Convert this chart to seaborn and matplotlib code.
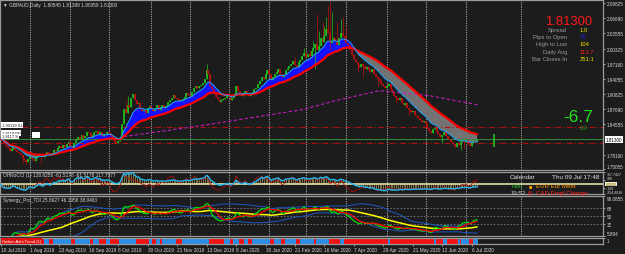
import numpy as np
import pandas as pd
import matplotlib
matplotlib.use("Agg")
import matplotlib.pyplot as plt
import matplotlib.transforms as mtrans
import seaborn as sns

# === Data ===
jul19 = [1.815, 1.812, 1.806, 1.800, 1.796, 1.790, 1.794, 1.797, 1.792, 1.788, 1.785, 1.780, 1.775, 1.770, 1.766, 1.772]
aug19 = [1.776, 1.772, 1.768, 1.775, 1.780, 1.784, 1.780, 1.776, 1.782, 1.788, 1.785, 1.780, 1.786, 1.792, 1.790,
         1.795, 1.800, 1.796, 1.802, 1.798, 1.804, 1.808]
sep19 = [1.800, 1.796, 1.805, 1.812, 1.818, 1.815, 1.822, 1.816, 1.820, 1.830, 1.826, 1.818, 1.822, 1.828, 1.832,
         1.824, 1.830, 1.820, 1.825, 1.822, 1.828]
oct19 = [1.826, 1.820, 1.812, 1.808, 1.805, 1.810, 1.815, 1.845, 1.878, 1.868, 1.885, 1.882, 1.900, 1.908, 1.895,
         1.888, 1.890, 1.878, 1.872, 1.875, 1.868, 1.880, 1.884]
nov19 = [1.880, 1.872, 1.878, 1.885, 1.876, 1.882, 1.885, 1.880, 1.884, 1.892, 1.896, 1.900, 1.906, 1.900, 1.897,
         1.894, 1.896, 1.899, 1.903, 1.910, 1.907]
dec19 = [1.905, 1.912, 1.920, 1.925, 1.922, 1.925, 1.928, 1.932, 1.940, 1.958, 1.950, 1.925, 1.918, 1.910, 1.902,
         1.898, 1.892, 1.895, 1.898, 1.900, 1.904]
jan20 = [1.902, 1.895, 1.900, 1.908, 1.925, 1.915, 1.910, 1.905, 1.910, 1.915, 1.910, 1.905, 1.910, 1.912, 1.918,
         1.922, 1.930, 1.935, 1.945, 1.940, 1.950, 1.958]
feb20 = [1.950, 1.938, 1.945, 1.950, 1.955, 1.960, 1.950, 1.945, 1.948, 1.958, 1.962, 1.966, 1.972, 1.978, 1.970,
         1.965, 1.975, 1.980, 1.988, 1.995]
mar20 = [1.985, 1.992, 1.988, 1.998, 2.005, 2.012, 2.000, 2.008, 2.025, 2.018, 2.030, 2.045, 2.035, 2.015, 2.020,
         2.025, 2.020, 2.010, 2.025, 2.035, 2.030, 2.020]
apr20 = [2.015, 2.010, 2.000, 1.990, 1.982, 1.975, 1.970, 1.965, 1.972, 1.968, 1.960, 1.965, 1.958, 1.955, 1.960,
         1.950, 1.945, 1.940, 1.935, 1.930, 1.925, 1.920]
may20 = [1.925, 1.930, 1.918, 1.912, 1.905, 1.900, 1.895, 1.900, 1.890, 1.885, 1.890, 1.880, 1.875, 1.870, 1.872,
         1.865, 1.862, 1.858, 1.855, 1.850, 1.852]
jun20 = [1.845, 1.838, 1.832, 1.826, 1.835, 1.838, 1.830, 1.824, 1.818, 1.822, 1.828, 1.820, 1.815, 1.812, 1.808,
         1.804, 1.798, 1.806, 1.802, 1.808, 1.812, 1.808]
jul20 = [1.812, 1.805, 1.800, 1.806, 1.811, 1.808, 1.813]
first_open = 1.818

# wick extremes on the longer candles (bar index -> price)
spike_high = {68: 1.895, 69: 1.905, 112: 1.972, 160: 1.985, 165: 2.005, 168: 2.000, 170: 2.020, 172: 2.075,
              173: 2.040, 175: 2.060, 176: 2.050, 177: 2.070, 178: 2.092, 179: 2.100, 180: 2.080, 183: 2.060,
              185: 2.065, 186: 2.070, 188: 2.050}
spike_low = {12: 1.765, 14: 1.760, 22: 1.765, 171: 1.960, 179: 2.000, 194: 1.955, 197: 1.945, 205: 1.925,
             215: 1.890, 222: 1.865, 240: 1.805, 250: 1.792, 252: 1.796}

# magenta dashed MA, read at a few bars
magenta_bar = [67, 109, 164, 182, 206, 233, 259]
magenta_val = [1.8193, 1.8423, 1.8757, 1.8945, 1.9154, 1.9050, 1.8860]

# horizontal levels
red_levels = [1.8385, 1.8065]
bid_line = 1.8148
future_bar = (268, 1.797, 1.824)

main_ticks = [2.09825, 2.06690, 2.03555, 2.00325, 1.97190, 1.94055, 1.90825, 1.87690, 1.84555, 1.78190, 1.75055]
cci_ticks = [307.7427, 100, -100, -254.4816]
cci_tick_labels = ["307.7427", "100", "-100", "-254.4816"]
tdi_ticks = [96.0855, 68, 50, 32, 5.894]
tdi_tick_labels = ["96.0855", "68", "50", "32", "5.894"]
date_labels = ["10 Jul 2019", "1 Aug 2019", "23 Aug 2019", "16 Sep 2019", "8 Oct 2019", "30 Oct 2019",
               "21 Nov 2019", "13 Dec 2019", "8 Jan 2020", "30 Jan 2020", "21 Feb 2020", "16 Mar 2020",
               "7 Apr 2020", "29 Apr 2020", "21 May 2020", "12 Jun 2020", "6 Jul 2020"]

info_labels = ["Spread", "Pips to Open", "High to Low", "Daily Avg", "Bar Closes In"]
info_values = ["1.0", "75", "104", "113.7", "251:1"]
info_colors = ["#f0e000", "#2020ff", "#f0e000", "#ff2020", "#f0e000"]

# === Build series ===
closes = np.array(jul19 + aug19 + sep19 + oct19 + nov19 + dec19 + jan20 + feb20 + mar20 + apr20 + may20 + jun20 + jul20)
dates = pd.bdate_range("2019-07-10", "2020-07-09")
dates = dates[~dates.isin(pd.to_datetime(["2019-12-25", "2020-01-01"]))]
n = len(closes)
idx = np.arange(n)
opens = np.concatenate([[first_open], closes[:-1]])
highs = np.maximum(opens, closes)
lows = np.minimum(opens, closes)
for k, v in spike_high.items():
    highs[k] = v
for k, v in spike_low.items():
    lows[k] = v

s = pd.Series(closes)
ema_fast = s.ewm(span=10).mean().values
ema_slow = s.ewm(span=30).mean().values


def cci(series, period):
    m = series.rolling(period, min_periods=2).mean()
    mad = series.rolling(period, min_periods=2).apply(lambda x: np.mean(np.abs(x - x.mean())), raw=True)
    return ((series - m) / (0.015 * mad)).fillna(0).clip(-250, 300).values


cci_slow = cci(s, 50)
cci_fast = cci(s, 14)

delta = s.diff()
gain = delta.clip(lower=0).ewm(alpha=1 / 13, adjust=False).mean()
loss = (-delta.clip(upper=0)).ewm(alpha=1 / 13, adjust=False).mean()
rsi = (100 - 100 / (1 + gain / loss)).bfill()
tdi_green = rsi.rolling(2, min_periods=1).mean().values
tdi_red = rsi.rolling(7, min_periods=1).mean().values
tdi_mid = rsi.rolling(34, min_periods=1).mean()
tdi_sd = rsi.rolling(34, min_periods=2).std().bfill()
tdi_up = (tdi_mid + 1.6185 * tdi_sd).values
tdi_dn = (tdi_mid - 1.6185 * tdi_sd).values
tdi_mid = tdi_mid.values

ha_close = (opens + highs + lows + closes) / 4
ha_open = np.zeros(n)
ha_open[0] = (opens[0] + closes[0]) / 2
for i in range(1, n):
    ha_open[i] = (ha_open[i - 1] + ha_close[i - 1]) / 2
ha_up = ha_close >= ha_open

month_start = [i for i in range(1, n) if dates[i].month != dates[i - 1].month] + [283]
label_bars = list(range(0, n, 16))

# === Figure ===
sns.set_theme(style="dark", rc={"axes.facecolor": "#1c1c1c", "figure.facecolor": "#1c1c1c"})
plt.rcParams["font.family"] = ["Liberation Sans", "DejaVu Sans"]

W, H = 625, 255
BG = "#1c1c1c"
TXT = "#d8d8d8"
fig = plt.figure(figsize=(W / 100, H / 100), dpi=100)


def px_axes(x0, y0, x1, y1):
    a = fig.add_axes([x0 / W, 1 - y1 / H, (x1 - x0) / W, (y1 - y0) / H])
    a.set_facecolor(BG)
    for sp in a.spines.values():
        sp.set_color("#9a9a9a")
        sp.set_linewidth(0.9)
    a.set_xlim(-0.3, 327.4)
    a.yaxis.tick_right()
    a.tick_params(axis="y", labelsize=3.3, colors=TXT, length=1.5, width=0.5, pad=1, right=True, left=False)
    a.tick_params(axis="x", bottom=False, labelbottom=False)
    a.grid(False)
    return a


def edge_labels(a):
    lab = a.get_yticklabels()
    lab[0].set_va("top")
    lab[-1].set_va("bottom")


def ftext(x, y, t, **kw):
    fig.text(x / W, 1 - y / H, t, **kw)


def vgrid(a):
    for m in month_start:
        a.axvline(m, color="#cfcfcf", lw=0.55, ls=(0, (1.5, 1.5)), zorder=0.5)


# --- main price panel ---
ax = px_axes(0, 1, 603, 171)
ax.set_ylim(1.7495, 2.105)
vgrid(ax)
ax.fill_between(idx, ema_fast, ema_slow, where=ema_fast >= ema_slow, color="#1212ff", interpolate=True, lw=0, zorder=1)
ax.fill_between(idx, ema_fast, ema_slow, where=ema_fast < ema_slow, color="#737373", interpolate=True, lw=0, zorder=1)
for lv in red_levels:
    ax.axhline(lv, color="#b01010", lw=0.8, ls=(0, (5, 2, 1, 2)), zorder=1.5)
ax.axhline(bid_line, color="#3a8a3a", lw=0.7, zorder=1.5)
col = np.where(closes >= opens, "#1cc21c", "#c20e0e")
ax.vlines(idx, lows, highs, colors=col, lw=0.5, zorder=2)
ax.vlines(idx, np.minimum(opens, closes), np.maximum(opens, closes), colors=col, lw=1.2, zorder=2)
ax.vlines(future_bar[0], future_bar[1], future_bar[2], colors="#1cc21c", lw=1.2, zorder=2)
sns.lineplot(x=magenta_bar, y=magenta_val, ax=ax, color="#c21cc2", lw=0.8, zorder=2.5)
ax.lines[-1].set_linestyle((0, (3, 2)))
sns.lineplot(x=idx, y=ema_slow, ax=ax, color="#ff0000", lw=1.6, zorder=3)
sns.lineplot(x=idx, y=ema_fast, ax=ax, color="#1ea6ff", lw=0.7, zorder=3)
ax.set_yticks(main_ticks)
ax.set_yticklabels([f"{t:.5f}" for t in main_ticks])
ax.get_yticklabels()[-1].set_va("bottom")
ax.set_xlabel("")
ax.set_ylabel("")
bl = mtrans.blended_transform_factory(ax.transAxes, ax.transData)
ax.text(1.004, 1.8130, "1.81300", transform=bl, fontsize=3.3, color="black", va="center", ha="left",
        bbox=dict(facecolor="white", edgecolor="none", pad=0.6), clip_on=False)

ftext(3, 6, "\u25bc GBPAUD,Daily  1.80545 1.81399 1.80359 1.81300", fontsize=3.4, color=TXT, va="center")
ftext(592, 25, "1.81300", fontsize=9.4, color="#ff1a1a", ha="right", va="baseline")
for i, (lab, val, c) in enumerate(zip(info_labels, info_values, info_colors)):
    y = 30.5 + i * 7.2
    ftext(567, y, lab, fontsize=4.2, color="#9a9a9a", ha="right", va="center")
    ftext(580, y, val, fontsize=4.2, color=c, ha="left", va="center")
ftext(593, 122, "-6.7", fontsize=12.5, color="#22dd22", ha="right", va="baseline")
ftext(580, 129, "0.0", fontsize=4.3, color="#2aa02a", ha="left", va="center")

for y, t in [(126, "1.90119 S1"), (134, "1.8118 PP"), (137.5, "1.8117 S")]:
    ftext(2, y, t, fontsize=3.0, color="#202020", va="center",
          bbox=dict(facecolor="white", edgecolor="none", pad=0.5))
ftext(33, 136, "      ", fontsize=3.0, va="center", bbox=dict(facecolor="white", edgecolor="none", pad=0.5))

# --- CCI panel ---
ax2 = px_axes(0, 173, 603, 195)
ax2.set_ylim(-254.4816, 307.7427)
vgrid(ax2)
ax2.vlines(idx, 0, cci_slow, colors="#9c8a52", lw=0.55, zorder=1)
ax2.axhline(0, color="#f3ecb0", lw=1.1, zorder=2)
sns.lineplot(x=idx, y=cci_fast, ax=ax2, color="#a81010", lw=0.6, zorder=3)
sns.lineplot(x=idx, y=cci_slow, ax=ax2, color="#22b8f0", lw=1.0, zorder=3)
ax2.set_yticks(cci_ticks)
ax2.set_yticklabels(cci_tick_labels)
ax2.tick_params(axis="y", labelsize=2.6)
edge_labels(ax2)
cl = ax2.get_yticklabels()
cl[1].set_va("bottom")
cl[2].set_va("center")
ax2.set_xlabel("")
ax2.set_ylabel("")
bl2 = mtrans.blended_transform_factory(ax2.transAxes, ax2.transData)
ax2.text(1.004, 0, "0.0000", transform=bl2, fontsize=2.6, color="#6a5a00", va="center", ha="left",
         bbox=dict(facecolor="#f4f0c8", edgecolor="none", pad=0.3), clip_on=False)
ftext(3, 176, "OHNoCCI (1) 128.6256 -61.5178 -61.5178 117.7577", fontsize=3.4, color=TXT, va="center")
ftext(510, 178, "Calendar", fontsize=4.6, color="#e0e0e0", va="center")
ftext(552, 178, "Thu 09 Jul 17:48", fontsize=4.6, color="#e0e0e0", va="center")
ftext(511, 186.5, "Hou", fontsize=4.4, color="#22c022", va="center")
ftext(529, 186.5, "\u25a0", fontsize=4.0, color="#ff9900", va="center")
ftext(536, 186.5, "EUR Eur Meet", fontsize=4.4, color="#ff9900", va="center")
ftext(511, 193.5, "19:52", fontsize=4.4, color="#c8c8c8", va="center")
ftext(528, 193.5, "(!)", fontsize=4.0, color="#ff2020", va="center")
ftext(536, 193.5, "CAD Empl Change", fontsize=4.4, color="#ff2020", va="center")

# --- TDI panel ---
ax3 = px_axes(0, 197, 603, 237)
ax3.set_ylim(5.894, 96.0855)
vgrid(ax3)
for lv in [68, 50, 32]:
    ax3.axhline(lv, color="#7a7a7a", lw=0.6, ls=(0, (2, 2)), zorder=1)
sns.lineplot(x=idx, y=tdi_up, ax=ax3, color="#2050b0", lw=0.8, zorder=2)
sns.lineplot(x=idx, y=tdi_dn, ax=ax3, color="#2050b0", lw=0.8, zorder=2)
sns.lineplot(x=idx, y=tdi_mid, ax=ax3, color="#ffff00", lw=1.1, zorder=3)
sns.lineplot(x=idx, y=tdi_green, ax=ax3, color="#00dd00", lw=0.9, zorder=4)
sns.lineplot(x=idx, y=tdi_red, ax=ax3, color="#ff0000", lw=0.9, zorder=4)
ax3.set_yticks(tdi_ticks)
ax3.set_yticklabels(tdi_tick_labels)
edge_labels(ax3)
ax3.set_xlabel("")
ax3.set_ylabel("")
ftext(3, 200.5, "Synergy_Pro_TDI 25.8627 46.1958 38.0463", fontsize=3.4, color=TXT, va="center")

# --- Heiken Ashi strip ---
ax4 = px_axes(0, 239, 603, 245)
ax4.set_ylim(0, 1)
ax4.bar(idx, 1, width=1.0, color=np.where(ha_up, "#2a8ee6", "#f01212"), lw=0, align="center")
ax4.set_yticks([1])
ax4.set_yticklabels(["1"])
ax4.get_yticklabels()[0].set_va("top")
ax4.set_xticks(label_bars)
ax4.set_xticklabels(date_labels, ha="left")
ax4.tick_params(axis="x", bottom=True, labelbottom=True, labelsize=3.4, colors=TXT, length=1.5, width=0.5, pad=1)
ftext(2, 242, "Heiken Ashi Trend (1)", fontsize=3.0, color="white", va="center",
      bbox=dict(facecolor="#e01010", edgecolor="none", pad=0.4))

fig.savefig("out.png", dpi=100, facecolor=BG)
